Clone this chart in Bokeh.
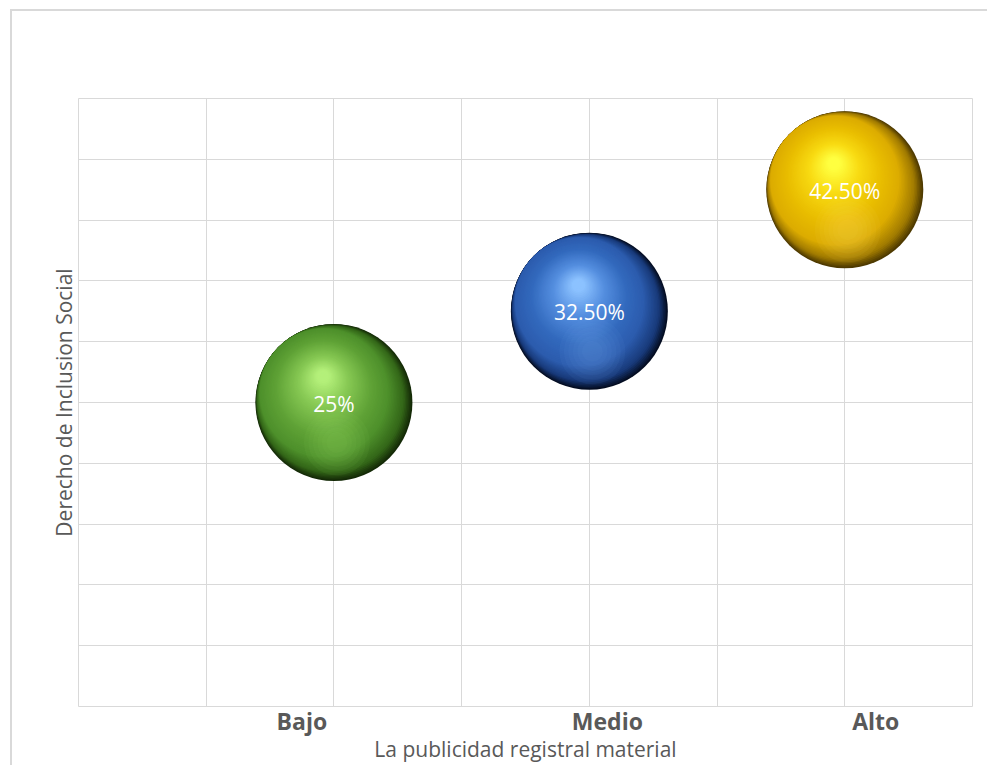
import numpy as np
from bokeh.plotting import figure
from bokeh.models import ColumnDataSource, FixedTicker, Title
from bokeh.core.properties import value
from bokeh.embed import file_html
from bokeh.resources import INLINE

# ---------------- data ----------------
categories = ["Bajo", "Medio", "Alto"]
cat_pos = [1, 2, 3]
percentages = [25.0, 32.5, 42.5]
point_labels = ["25%", "32.50%", "42.50%"]
x_title = "La publicidad registral material"
y_title = "Derecho de Inclusion Social"

# ---------------- layout constants ----------------
W, H = 987, 765
FL, FR, FT, FB = 78, 972, 98, 706          # frame edges in canvas px
XMIN, XMAX, YMIN, YMAX = 0.0, 3.5, 0.0, 50.0
PX_X = (FR - FL) / (XMAX - XMIN)
PX_Y = (FB - FT) / (YMAX - YMIN)

TXT = "#595959"
GRID = "#d9d9d9"
FONT = "Open Sans"

p = figure(width=W, height=H, x_range=(XMIN, XMAX), y_range=(YMIN, YMAX),
           output_backend="svg", toolbar_location=None,
           min_border_left=FL, min_border_right=W - FR,
           min_border_top=FT, min_border_bottom=H - FB,
           background_fill_color="white", border_fill_color=None,
           outline_line_color=GRID, outline_line_width=1)
# outer chart-area border (left & top edges visible in the window)
p.styles = {
    "background-color": "white",
    "background-image": "linear-gradient(#d9d9d9, #d9d9d9), linear-gradient(#d9d9d9, #d9d9d9)",
    "background-size": "2px 100%, 100% 2px",
    "background-position": "10px 9px, 10px 9px",
    "background-repeat": "no-repeat",
}

p.yaxis.visible = False
p.xgrid.ticker = FixedTicker(ticks=[float(v) for v in np.arange(XMIN, XMAX + 0.01, 0.5)])
p.ygrid.ticker = FixedTicker(ticks=[float(v) for v in np.arange(YMIN, YMAX + 0.01, 5)])
for g in (p.xgrid, p.ygrid):
    g.grid_line_color = GRID
    g.grid_line_width = 1

# category labels (Excel draws them slightly shifted from the bubble centres)
tick_dx = [-32, 18, 31]
tick_at = [round(cat_pos[i] + tick_dx[i] / PX_X, 4) for i in range(len(categories))]
xa = p.xaxis[0]
xa.ticker = FixedTicker(ticks=tick_at)
xa.major_label_overrides = {t: c for t, c in zip(tick_at, categories)}
xa.axis_line_color = None
xa.major_tick_line_color = None
xa.minor_tick_line_color = None
xa.major_tick_out = 0
xa.major_tick_in = 0
xa.major_label_standoff = -2
xa.major_label_text_font = FONT
xa.major_label_text_font_style = "bold"
xa.major_label_text_font_size = "23px"
xa.major_label_text_color = TXT

p.add_layout(Title(text=x_title, align="center", offset=32, standoff=-13,
                   text_font=FONT, text_font_size="21px", text_font_style="normal",
                   text_color=TXT), "below")
p.add_layout(Title(text=y_title, align="center", offset=5, standoff=2,
                   text_font=FONT, text_font_size="21px", text_font_style="normal",
                   text_color=TXT), "left")

# ---------------- shaded spheres ----------------
R = 78.5                        # sphere radius, px
DARK_DIR = np.array([-0.72, -0.69])   # direction the centres move in the rim phase
HL = np.array([-11.0, -28.0])   # highlight offset from centre (px right, px down)
N1, N2 = 16, 48
R1 = R - 14.0

rim_cols = [["#142a07", "#336618", "#4e902b"],
            ["#040d22", "#183a7a", "#2c5cae"],
            ["#4e3a00", "#a07a00", "#dcac00"]]
body_cols = [["#4e902b", "#5fa236", "#86c853", "#b4f07a", "#b4f07a"],
             ["#2c5cae", "#3269bd", "#558fe0", "#8cc2ff", "#8cc2ff"],
             ["#dcac00", "#e8bc00", "#f8da12", "#ffff40", "#ffff40"]]
rim_stops = [0.0, 0.35, 1.0]
body_stops = [0.0, 0.25, 0.6, 0.9, 1.0]


def hex2rgb(h):
    h = h.lstrip("#")
    return np.array([int(h[i:i + 2], 16) for i in (0, 2, 4)], dtype=float)


def interp_col(cols, stops, s):
    rgbs = [hex2rgb(c) for c in cols]
    for j in range(len(stops) - 1):
        if stops[j] <= s <= stops[j + 1]:
            f = (s - stops[j]) / (stops[j + 1] - stops[j])
            c = rgbs[j] * (1 - f) + rgbs[j + 1] * f
            return "#%02x%02x%02x" % tuple(int(round(v)) for v in c)
    return cols[-1]


lx, ly, ls, lc = [], [], [], []
shift1 = DARK_DIR / np.linalg.norm(DARK_DIR) * (R - R1) * 0.97
for k in range(N1):
    s = k / N1
    off = shift1 * s
    rad = R - (R - R1) * s
    for i in range(len(categories)):
        lx.append(cat_pos[i] + off[0] / PX_X)
        ly.append(percentages[i] - off[1] / PX_Y)
        ls.append(2 * rad)
        lc.append(interp_col(rim_cols[i], rim_stops, s))
for k in range(N2):
    s = k / N2
    off = shift1 + (HL - shift1) * s
    rad = R1 * (1 - s)
    for i in range(len(categories)):
        lx.append(cat_pos[i] + off[0] / PX_X)
        ly.append(percentages[i] - off[1] / PX_Y)
        ls.append(2 * rad)
        lc.append(interp_col(body_cols[i], body_stops, s))

layers = ColumnDataSource(dict(x=lx, y=ly, size=ls, color=lc))
p.scatter("x", "y", size="size", fill_color="color", line_color=None,
          marker="circle", source=layers)

# soft lower reflection
rx, ry, rs, rc = [], [], [], []
refl = ["#9ad86a", "#7aa8ec", "#ffe060"]
for k in range(6):
    for i in range(len(categories)):
        rx.append(cat_pos[i] + 3 / PX_X)
        ry.append(percentages[i] - 40 / PX_Y)
        rs.append(66 - 9 * k)
        rc.append(refl[i])
p.scatter(rx, ry, size=rs, fill_color=rc, fill_alpha=0.06, line_color=None, marker="circle")

# ---------------- value labels ----------------
p.text(x=cat_pos, y=percentages, text=point_labels, text_align="center",
       text_baseline="middle", text_color="white", text_font=value(FONT),
       text_font_size="21px", y_offset=1)

open("out.html", "w").write(file_html(p, INLINE))
